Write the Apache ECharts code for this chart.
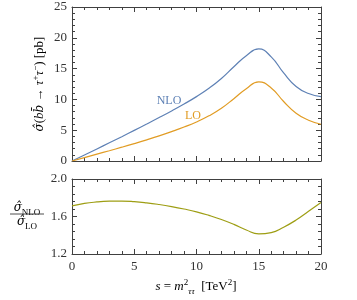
<!DOCTYPE html>
<html><head><meta charset="utf-8">
<script src="https://cdn.jsdelivr.net/npm/echarts@6/dist/echarts.min.js"></script>
<style>html,body{margin:0;padding:0;background:#fff}#c{width:357px;height:300px}</style>
</head><body><div id="c"></div>
<script>
// s values [TeV^2]
const sValues = [0,1,2,3,4,5,6,7,8,9,10,11,12,13,14,15,16,17,18,19,20];
// NLO cross section [pb]
const nloValues = [0,0.98,1.96,2.95,3.95,4.97,6.0,7.05,8.13,9.25,10.45,11.8,13.4,15.3,17.1,18.2,16.9,14.3,12.1,10.95,10.45];
// LO cross section [pb]
const loValues = [0,0.56,1.12,1.67,2.24,2.83,3.44,4.08,4.77,5.51,6.33,7.33,8.56,10.12,11.74,12.84,11.86,9.66,7.76,6.62,5.97];
// ratio NLO/LO
const ratioValues = [1.713,1.74,1.755,1.763,1.765,1.759,1.746,1.728,1.706,1.68,1.65,1.612,1.568,1.516,1.456,1.415,1.428,1.486,1.562,1.655,1.75];
const xTicks = [0,5,10,15,20];
const yTopTicks = [0,5,10,15,20,25];
const yBotTicks = [1.2,1.6,2.0];

const FONT = 'Liberation Serif';
const AX = '#404040';
const cNLO = '#5E81B5', cLO = '#E19C24', cR = '#9E9E14';

function zip(a,b){return a.map((v,i)=>[v,b[i]]);}

function xAx(grid,pos,labels){
  return {type:'value',gridIndex:grid,position:pos,min:xTicks[0],max:xTicks[xTicks.length-1],interval:xTicks[1]-xTicks[0],
    axisLine:{show:true,onZero:false,lineStyle:{color:AX,width:1}},
    axisTick:{show:true,inside:true,length:5,lineStyle:{color:AX}},
    minorTick:{show:true,splitNumber:5,length:3,lineStyle:{color:AX}},
    splitLine:{show:false},minorSplitLine:{show:false},
    axisLabel:{show:labels,fontFamily:FONT,fontSize:13,color:'#333',margin:6}};
}
function yAx(grid,pos,labels,ticks,fmt){
  return {type:'value',gridIndex:grid,position:pos,min:ticks[0],max:ticks[ticks.length-1],interval:ticks[1]-ticks[0],
    axisLine:{show:true,onZero:false,lineStyle:{color:AX,width:1}},
    axisTick:{show:true,inside:true,length:5,lineStyle:{color:AX}},
    minorTick:{show:true,splitNumber:5,length:3,lineStyle:{color:AX}},
    splitLine:{show:false},minorSplitLine:{show:false},
    axisLabel:{show:labels,fontFamily:FONT,fontSize:13,color:'#333',margin:5,formatter:fmt}};
}

const chart = echarts.init(document.getElementById('c'),null,{renderer:'canvas'});
const richBase = {
  n:{fontFamily:FONT,fontSize:13,color:'#222',lineHeight:18},
  i:{fontFamily:FONT,fontSize:13,fontStyle:'italic',color:'#222',lineHeight:18},
  h:{fontFamily:'DejaVu Serif',fontSize:12,fontStyle:'italic',color:'#222',lineHeight:18},
  sub:{fontFamily:FONT,fontSize:9,fontStyle:'italic',color:'#222',lineHeight:9,verticalAlign:'bottom'},
  subn:{fontFamily:FONT,fontSize:9,color:'#222',lineHeight:9,verticalAlign:'bottom'},
  sup:{fontFamily:FONT,fontSize:9,color:'#222',lineHeight:9,verticalAlign:'top'}
};
chart.setOption({
  animation:false,
  grid:[{left:72,top:7,width:249,height:154},{left:72,top:179,width:249,height:75}],
  xAxis:[xAx(0,'bottom',false),xAx(0,'top',false),xAx(1,'bottom',true),xAx(1,'top',false)],
  yAxis:[yAx(0,'left',true,yTopTicks),yAx(0,'right',false,yTopTicks),
         yAx(1,'left',true,yBotTicks,v=>v.toFixed(1)),yAx(1,'right',false,yBotTicks)],
  series:[
    {type:'line',xAxisIndex:0,yAxisIndex:0,data:zip(sValues,nloValues),showSymbol:false,smooth:0.5,lineStyle:{color:cNLO,width:1.2},itemStyle:{color:cNLO}},
    {type:'line',xAxisIndex:0,yAxisIndex:0,data:zip(sValues,loValues),showSymbol:false,smooth:0.5,lineStyle:{color:cLO,width:1.2},itemStyle:{color:cLO}},
    {type:'line',xAxisIndex:2,yAxisIndex:2,data:zip(sValues,ratioValues),showSymbol:false,smooth:0.5,lineStyle:{color:cR,width:1.2},itemStyle:{color:cR}}
  ],
  graphic:[
    {type:'text',x:169,y:101,style:{text:'NLO',fontFamily:FONT,fontSize:12,fill:cNLO,align:'center',verticalAlign:'middle'}},
    {type:'text',x:193,y:116,style:{text:'LO',fontFamily:FONT,fontSize:12,fill:cLO,align:'center',verticalAlign:'middle'}},
    {type:'text',x:40,y:84,rotation:Math.PI/2,style:{
      text:'{h|σ\u0302}{n|(}{i|b}{h|b\u0304}{n| → }{i|τ}{sup|+}{i|τ}{sup|−}{n|) [pb]}',
      align:'center',verticalAlign:'middle',rich:richBase}},
    {type:'text',x:196,y:287,style:{
      text:'{i|s}{n| = }{i|m}{sup|2}{sub|ττ}{n|  [TeV}{sup|2}{n|]}',
      align:'center',verticalAlign:'middle',rich:richBase}},
    {type:'text',x:27,y:208,style:{
      text:'{h|σ\u0302}{subn|NLO}',align:'center',verticalAlign:'middle',rich:richBase}},
    {type:'line',shape:{x1:10,y1:214,x2:44,y2:214},style:{stroke:'#222',lineWidth:0.8}},
    {type:'text',x:27,y:222,style:{
      text:'{h|σ\u0302}{subn|LO}',align:'center',verticalAlign:'middle',rich:richBase}}
  ]
});
</script></body></html>
